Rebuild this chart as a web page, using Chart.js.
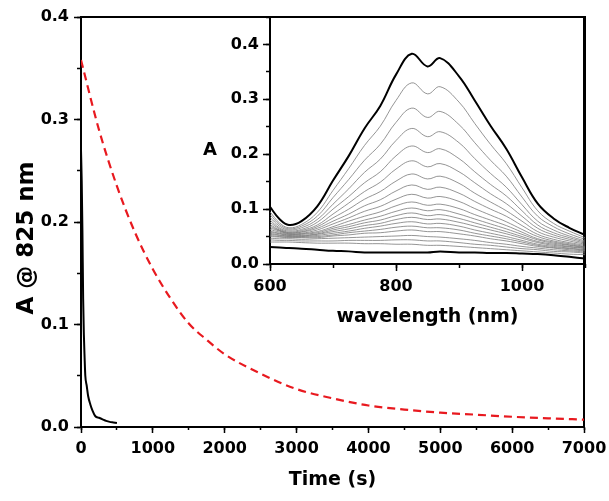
<!DOCTYPE html>
<html>
<head>
<meta charset="utf-8">
<script src="https://cdn.jsdelivr.net/npm/chart.js@4.4.1/dist/chart.umd.min.js"></script>
<style>
  body { margin: 0; background: #fff; }
  #wrap { position: relative; width: 609px; height: 501px; background: #fff; }
  #mainChart { position: absolute; left: 0; top: 0; }
  #insetChart { position: absolute; left: 200px; top: 0; }
</style>
</head>
<body>
<div id="wrap">
  <canvas id="mainChart" width="609" height="501"></canvas>
  <canvas id="insetChart" width="409" height="340"></canvas>
</div>
<script>
// absorbance at 825 nm vs time (fast trace, black)
const decayTime = [0, 10, 20, 30, 40, 50, 60, 80, 100, 130, 160, 200, 250, 300, 350, 400, 450, 500];
const decayAbs = [0.27, 0.24, 0.19, 0.125, 0.09, 0.068, 0.05, 0.04, 0.03, 0.022, 0.016, 0.0105, 0.009, 0.0075, 0.006, 0.005, 0.0045, 0.004];

// slow trace (red dashed)
const slowTime = [0, 250, 500, 750, 1000, 1250, 1500, 1750, 2000, 2500, 3000, 3500, 4000, 4500, 5000, 5500, 6000, 6500, 7000];
const slowAbs = [0.358, 0.29, 0.235, 0.19, 0.154, 0.125, 0.101, 0.085, 0.071, 0.052, 0.037, 0.028, 0.021, 0.017, 0.014, 0.012, 0.010, 0.0085, 0.0072];

// inset: spectra recorded during the decay
const wavelengths = [600, 615, 630, 650, 675, 700, 725, 750, 775, 800, 825, 850, 870, 900, 925, 950, 975, 1000, 1025, 1050, 1075, 1100];
const spectra = [
  [.104,.082,.071,.078,.105,.152,.197,.247,.288,.345,.383,.360,.375,.342,.298,.252,.210,.158,.110,.083,.066,.053],
  [.095,.075,.066,.072,.094,.134,.174,.216,.251,.298,.330,.310,.323,.295,.256,.218,.183,.139,.097,.074,.060,.048],
  [.090,.072,.064,.069,.087,.121,.154,.189,.218,.258,.284,.267,.278,.254,.221,.189,.160,.122,.087,.068,.055,.045],
  [.085,.069,.062,.066,.081,.109,.137,.167,.191,.225,.247,.232,.241,.221,.192,.165,.140,.108,.078,.062,.051,.042],
  [.080,.066,.060,.063,.076,.100,.123,.148,.168,.197,.215,.203,.210,.192,.168,.145,.124,.097,.071,.057,.048,.040],
  [.076,.064,.058,.061,.071,.091,.111,.132,.149,.173,.188,.177,.183,.168,.148,.128,.110,.087,.065,.053,.045,.038],
  [.072,.062,.057,.059,.068,.084,.100,.118,.132,.151,.164,.155,.160,.147,.129,.113,.097,.078,.059,.049,.042,.036],
  [.069,.061,.056,.058,.065,.078,.091,.106,.117,.133,.144,.136,.140,.129,.114,.100,.087,.070,.054,.045,.039,.034],
  [.066,.060,.055,.056,.062,.073,.084,.096,.105,.118,.127,.120,.123,.114,.101,.089,.077,.063,.050,.042,.037,.032],
  [.063,.058,.054,.055,.059,.068,.078,.087,.095,.106,.113,.107,.109,.101,.090,.080,.070,.058,.046,.040,.035,.031],
  [.060,.056,.053,.054,.057,.065,.072,.080,.087,.096,.102,.097,.099,.091,.082,.073,.064,.054,.044,.038,.034,.030],
  [.058,.055,.052,.052,.055,.062,.068,.075,.080,.088,.093,.088,.090,.083,.075,.067,.059,.050,.041,.036,.032,.029],
  [.056,.053,.051,.051,.054,.059,.064,.070,.074,.081,.085,.081,.082,.076,.069,.062,.055,.047,.039,.034,.031,.028],
  [.054,.052,.050,.050,.052,.056,.060,.065,.069,.074,.077,.073,.074,.069,.062,.056,.050,.043,.036,.032,.029,.026],
  [.052,.050,.049,.049,.050,.053,.057,.060,.063,.067,.069,.066,.066,.062,.056,.051,.046,.040,.034,.030,.028,.025],
  [.050,.049,.048,.048,.048,.051,.053,.056,.057,.060,.062,.059,.059,.055,.051,.046,.042,.037,.032,.029,.026,.024],
  [.047,.046,.046,.045,.046,.047,.048,.049,.050,.051,.052,.050,.049,.046,.043,.039,.036,.032,.029,.026,.024,.022],
  [.044,.043,.043,.042,.042,.042,.043,.043,.043,.044,.044,.042,.042,.039,.036,.034,.031,.028,.026,.023,.022,.020],
  [.040,.040,.040,.039,.038,.038,.038,.037,.037,.036,.036,.034,.034,.032,.030,.028,.026,.024,.022,.020,.018,.017],
  [.031,.030,.029,.028,.026,.024,.023,.021,.021,.021,.021,.021,.023,.021,.021,.020,.020,.019,.018,.016,.013,.010]
];

Chart.defaults.font.family = '"DejaVu Sans", sans-serif';
Chart.defaults.font.weight = 'bold';
Chart.defaults.color = '#000';

const pts = (xs, ys) => xs.map((x, i) => ({ x: x, y: ys[i] }));
// fixed axis sizes, and no extra room asked for overhanging labels
function noPad(scale) { scale.paddingLeft = scale.paddingRight = scale.paddingTop = scale.paddingBottom = 0; }
const fixWidth = w => scale => { scale.width = w; noPad(scale); };
const fixHeight = h => scale => { scale.height = h; noPad(scale); };

// axis helpers: major ticks with labels, minor ticks (no labels), frame lines
function majorAxis(pos, min, max, step, tick, fontSize, pad, extra) {
  return Object.assign({
    type: 'linear', position: pos, weight: 1, min: min, max: max,
    ticks: { stepSize: step, padding: pad, includeBounds: false, font: { size: fontSize }, callback: v => String(v) },
    grid: { drawOnChartArea: false, drawTicks: true, tickLength: tick, tickWidth: 1.5, tickColor: '#000' },
    border: { display: true, color: '#000', width: 2 }
  }, extra);
}
function minorAxis(pos, min, max, step, tick) {
  return {
    type: 'linear', position: pos, weight: 0, min: min, max: max,
    ticks: { stepSize: step, display: false },
    grid: { drawOnChartArea: false, drawTicks: true, tickLength: tick, tickWidth: 1.5, tickColor: '#000' },
    border: { display: false },
    afterFit: (pos === 'left' || pos === 'right') ? fixWidth(0) : fixHeight(0)
  };
}
function frameAxis(pos, min, max) {
  return {
    type: 'linear', position: pos, min: min, max: max,
    ticks: { display: false },
    grid: { display: false },
    border: { display: true, color: '#000', width: 2 },
    afterFit: (pos === 'left' || pos === 'right') ? fixWidth(0) : fixHeight(0)
  };
}

// rotated y title of the main plot
const mainYTitle = {
  id: 'mainYTitle',
  afterDraw(chart) {
    const ctx = chart.ctx;
    ctx.save();
    ctx.font = 'bold 23px "DejaVu Sans", sans-serif';
    ctx.fillStyle = '#000';
    ctx.textAlign = 'center';
    ctx.textBaseline = 'middle';
    ctx.translate(27, 238);
    ctx.rotate(-Math.PI / 2);
    ctx.fillText('A @ 825 nm', 0, 0);
    ctx.restore();
  }
};

new Chart(document.getElementById('mainChart'), {
  type: 'line',
  data: {
    datasets: [
      { data: pts(decayTime, decayAbs), borderColor: '#000', borderWidth: 2, pointRadius: 0, cubicInterpolationMode: 'monotone' },
      { data: pts(slowTime, slowAbs), borderColor: '#e8191f', borderWidth: 2.2, borderDash: [8, 5], pointRadius: 0, cubicInterpolationMode: 'monotone' }
    ]
  },
  options: {
    responsive: false,
    animation: false,
    devicePixelRatio: 1,
    layout: { padding: { left: 0, right: 25, top: 17, bottom: 0 } },
    plugins: { legend: { display: false }, tooltip: { enabled: false } },
    scales: {
      x: majorAxis('bottom', 0, 7000, 1000, 6, 16, 6, {
        title: { display: true, text: 'Time (s)', font: { size: 19 }, padding: { top: 0, bottom: 10 } },
        afterFit: fixHeight(74)
      }),
      xMinor: minorAxis('bottom', 0, 7000, 500, 3),
      xTop: frameAxis('top', 0, 7000),
      y: majorAxis('left', 0, 0.4, 0.1, 7, 16, 5, {
        ticks: { stepSize: 0.1, padding: 5, includeBounds: false, font: { size: 16 }, callback: v => v.toFixed(1) },
        afterFit: fixWidth(81)
      }),
      yMinor: minorAxis('left', 0, 0.4, 0.05, 4),
      yRight: frameAxis('right', 0, 0.4)
    }
  },
  plugins: [mainYTitle]
});
</script>
<script>
// upright "A" label of the inset
const insetYLabel = {
  id: 'insetYLabel',
  afterDraw(chart) {
    const ctx = chart.ctx;
    ctx.save();
    ctx.font = 'bold 18px "DejaVu Sans", sans-serif';
    ctx.fillStyle = '#000';
    ctx.textAlign = 'center';
    ctx.textBaseline = 'middle';
    ctx.fillText('A', chart.chartArea.left - 60, 150);
    ctx.restore();
  }
};

const insetSets = spectra.map((s, i) => {
  const edge = i === 0 || i === spectra.length - 1;
  return {
    data: pts(wavelengths, s),
    borderColor: edge ? '#000' : '#7a7a7a',
    borderWidth: edge ? 2 : 0.8,
    pointRadius: 0,
    tension: 0.4
  };
});

new Chart(document.getElementById('insetChart'), {
  type: 'line',
  data: { datasets: insetSets },
  options: {
    responsive: false,
    animation: false,
    devicePixelRatio: 1,
    layout: { padding: { left: 0, right: 24, top: 17, bottom: 0 } },
    plugins: { legend: { display: false }, tooltip: { enabled: false } },
    scales: {
      x: majorAxis('bottom', 600, 1100, 200, 7, 16, 6, {
        title: { display: true, text: 'wavelength (nm)', font: { size: 19 }, padding: { top: 0, bottom: 12 } },
        afterFit: fixHeight(76)
      }),
      xMinor: minorAxis('bottom', 600, 1100, 100, 4),
      xTop: frameAxis('top', 600, 1100),
      y: majorAxis('left', 0, 0.45, 0.1, 7, 16, 4, {
        ticks: { stepSize: 0.1, padding: 4, includeBounds: false, font: { size: 16 }, callback: v => v.toFixed(1) },
        afterFit: fixWidth(70)
      }),
      yMinor: minorAxis('left', 0, 0.45, 0.05, 4),
      yRight: frameAxis('right', 0, 0.45)
    }
  },
  plugins: [insetYLabel]
});
</script>
</body>
</html>
